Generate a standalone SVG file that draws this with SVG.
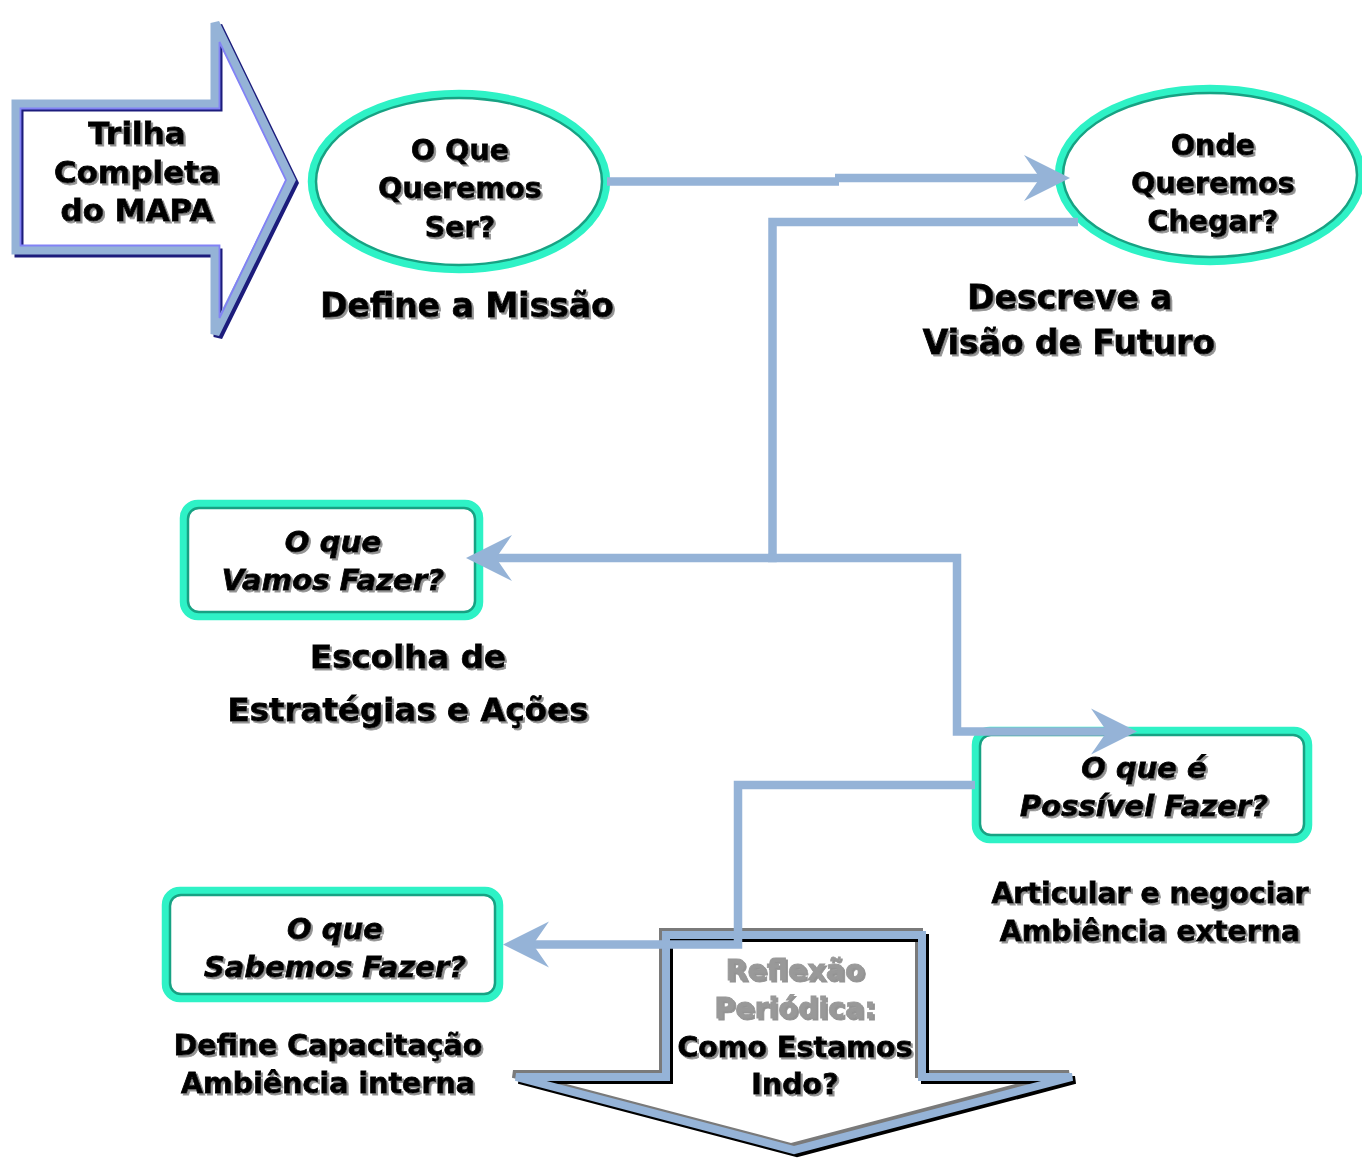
<svg xmlns="http://www.w3.org/2000/svg" width="1362" height="1158" viewBox="0 0 1362 1158">
<style>
.t{font-family:"DejaVu Sans","Verdana",sans-serif;font-weight:bold;text-anchor:middle;fill:#000;stroke:#000;stroke-width:0.8;filter:url(#sh)}
.it{font-style:italic}
.gray{fill:#999999;stroke:#999999}
.conn{fill:none;stroke:#95b3d7;stroke-width:8.5;stroke-linejoin:miter;stroke-linecap:butt}
.tealA{fill:#ffffff;stroke:#2ef2c6;stroke-width:8.5}
.tealB{fill:none;stroke:#17a283;stroke-width:2.5}
</style>
<defs>
<filter id="sh" x="-10%" y="-20%" width="130%" height="150%">
<feDropShadow dx="2" dy="2" stdDeviation="0.6" flood-color="#808080" flood-opacity="0.85"/>
</filter>
<marker id="ah" markerUnits="userSpaceOnUse" viewBox="-36 -24 50 48" refX="0" refY="0" markerWidth="50" markerHeight="48" orient="auto" overflow="visible">
<path d="M12,0 L-34,-23 L-18,0 L-34,23 Z" fill="#95b3d7"/>
</marker>
</defs>

<g id="trilha">
<polygon points="16,104 215,104 215,23 291,180 215,334 215,250 16,250" fill="#ffffff"/>
<polygon points="16,104 215,104 215,23 291,180 215,334 215,250 16,250" transform="translate(3,3)" fill="none" stroke="#1c1c7c" stroke-width="9"/>
<polygon points="16,104 215,104 215,23 291,180 215,334 215,250 16,250" fill="none" stroke="#95b3d7" stroke-width="9"/>
<polygon points="20.5,108.5 219.5,108.5 219.5,42 286,180 219.5,318 219.5,245.5 20.5,245.5" fill="none" stroke="#8282f5" stroke-width="1.8"/>
<text class="t" font-size="31" x="137" y="144">Trilha</text>
<text class="t" font-size="31" x="137" y="183">Completa</text>
<text class="t" font-size="31" x="137" y="221">do MAPA</text>
</g>

<g id="reflexao">
<polygon points="666,935 922,935 922,1077 1072,1077 794,1150 516,1077 666,1077" fill="#ffffff"/>
<polygon points="666,935 922,935 922,1077 1072,1077 794,1150 516,1077 666,1077" transform="translate(-3,-3)" fill="none" stroke="#7a7a7a" stroke-width="8"/>
<polygon points="666,935 922,935 922,1077 1072,1077 794,1150 516,1077 666,1077" transform="translate(3,3)" fill="none" stroke="#000000" stroke-width="8"/>
<polygon points="666,935 922,935 922,1077 1072,1077 794,1150 516,1077 666,1077" fill="none" stroke="#95b3d7" stroke-width="8"/>
<text class="t gray" font-size="28.5" x="795" y="980">Reflexão</text>
<text class="t gray" font-size="28.5" x="795" y="1018">Periódica:</text>
<text class="t" font-size="28.5" x="795" y="1057">Como Estamos</text>
<text class="t" font-size="28.5" x="795" y="1094">Indo?</text>
</g>

<g id="missao">
<ellipse class="tealA" cx="459" cy="181.5" rx="147" ry="87.5"/>
<ellipse class="tealB" cx="459" cy="181.5" rx="143" ry="83.5"/>
<text class="t" font-size="28.5" x="460" y="160">O Que</text>
<text class="t" font-size="28.5" x="460" y="198">Queremos</text>
<text class="t" font-size="28.5" x="460" y="237">Ser?</text>
<text class="t" font-size="33" x="467" y="317">Define a Missão</text>
</g>

<g id="visao">
<ellipse class="tealA" cx="1210" cy="175" rx="151" ry="86"/>
<ellipse class="tealB" cx="1210" cy="175" rx="147" ry="82"/>
<text class="t" font-size="28.5" x="1213" y="155">Onde</text>
<text class="t" font-size="28.5" x="1213" y="193">Queremos</text>
<text class="t" font-size="28.5" x="1213" y="231">Chegar?</text>
<text class="t" font-size="33" x="1070" y="309">Descreve a</text>
<text class="t" font-size="33" x="1069" y="354">Visão de Futuro</text>
</g>

<g id="vamos">
<rect class="tealA" x="184" y="504" width="295" height="112" rx="14"/>
<rect class="tealB" x="188" y="508" width="287" height="104" rx="11"/>
<text class="t it" font-size="29.2" x="333" y="552">O que</text>
<text class="t it" font-size="29.2" x="333" y="590">Vamos Fazer?</text>
<text class="t" font-size="32.5" x="408" y="668">Escolha de</text>
<text class="t" font-size="32.5" x="408" y="721">Estratégias e Ações</text>
</g>

<g id="possivel">
<rect class="tealA" x="976" y="731" width="332" height="108" rx="14"/>
<rect class="tealB" x="980" y="735" width="324" height="100" rx="11"/>
<text class="t it" font-size="29" x="1144" y="778">O que é</text>
<text class="t it" font-size="29" x="1144" y="816">Possível Fazer?</text>
<text class="t" font-size="28.4" x="1150" y="903">Articular e negociar</text>
<text class="t" font-size="28.4" x="1150" y="941">Ambiência externa</text>
</g>

<g id="sabemos">
<rect class="tealA" x="166" y="891" width="333" height="107" rx="14"/>
<rect class="tealB" x="170" y="895" width="325" height="99" rx="11"/>
<text class="t it" font-size="29" x="335" y="939">O que</text>
<text class="t it" font-size="29" x="335" y="977">Sabemos Fazer?</text>
<text class="t" font-size="28.5" x="328" y="1055">Define Capacitação</text>
<text class="t" font-size="28.5" x="328" y="1093">Ambiência interna</text>
</g>

<g id="connectors">
<path class="conn" d="M607,181.5 H839 M835,178 H1058" marker-end="url(#ah)"/>
<path class="conn" d="M1078,222 H772.5 V558 H478" marker-end="url(#ah)"/>
<path class="conn" d="M768,558 H957 V731.5 H1125" marker-end="url(#ah)"/>
<path class="conn" d="M975,785 H738 V944.5 H515" marker-end="url(#ah)"/>
</g>
</svg>
